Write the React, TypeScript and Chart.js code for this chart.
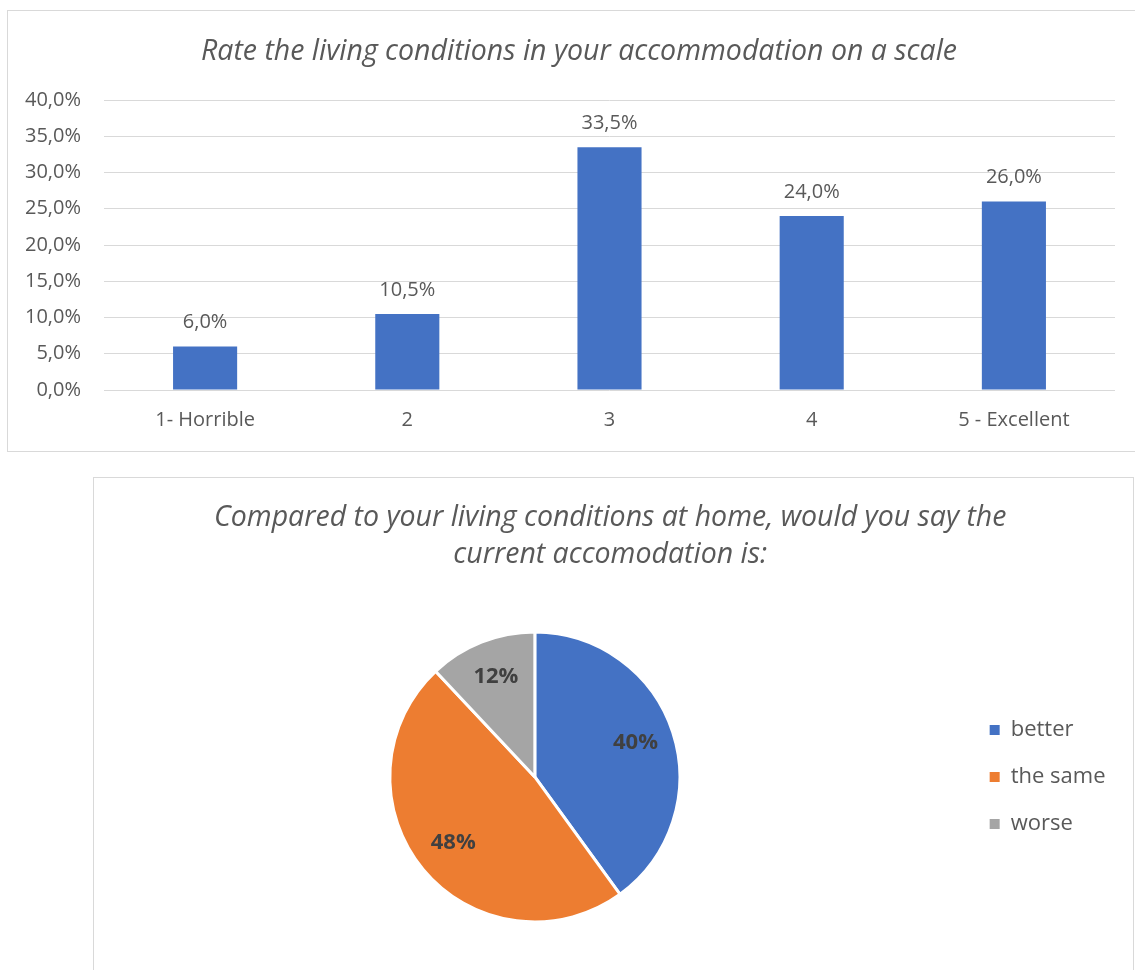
import React, { useEffect, useRef } from "react";
import { Chart, registerables } from "chart.js";

Chart.register(...registerables);

const FONT = "'Open Sans', 'Noto Sans', sans-serif";
const TEXT = "#595959";

const barTitle = "Rate the living conditions in your accommodation on a scale";
const barCategories = ["1- Horrible", "2", "3", "4", "5 - Excellent"];
const barValues = [6.0, 10.5, 33.5, 24.0, 26.0];
const yMax = 40;
const yStep = 5;

const pieTitle = [
  "Compared to your living conditions at home, would you say the",
  "current accomodation is:",
];
const pieLabels = ["better", "the same", "worse"];
const pieValues = [40, 48, 12];
const pieColors = ["#4472C4", "#ED7D31", "#A5A5A5"];

const fmtPct = (v: number) => v.toFixed(1).replace(".", ",") + "%";

const barLabelPlugin = {
  id: "barLabels",
  afterDatasetsDraw(chart: any) {
    const ctx = chart.ctx;
    const meta = chart.getDatasetMeta(0);
    ctx.save();
    ctx.font = `20px ${FONT}`;
    ctx.fillStyle = TEXT;
    ctx.textAlign = "center";
    ctx.textBaseline = "middle";
    meta.data.forEach((el: any, i: number) => {
      ctx.fillText(fmtPct(barValues[i]), el.x, el.y - 24);
    });
    ctx.restore();
  },
};

// Title in the reference sits slightly right of the canvas centre.
const titleShiftPlugin = {
  id: "titleShift",
  afterLayout(chart: any) {
    const t = chart.titleBlock;
    if (t) {
      t.left += 17.5;
      t.right += 17.5;
    }
  },
};

const pieLabelPlugin = {
  id: "pieLabels",
  afterDatasetsDraw(chart: any) {
    const ctx = chart.ctx;
    const meta = chart.getDatasetMeta(0);
    ctx.save();
    ctx.font = `bold 22px ${FONT}`;
    ctx.fillStyle = "#404040";
    ctx.textAlign = "center";
    ctx.textBaseline = "middle";
    meta.data.forEach((arc: any, i: number) => {
      const p = arc.getProps(["x", "y", "startAngle", "endAngle", "outerRadius"], true);
      const mid = (p.startAngle + p.endAngle) / 2;
      const r = p.outerRadius * 0.73;
      ctx.fillText(pieValues[i] + "%", p.x + Math.cos(mid) * r, p.y + Math.sin(mid) * r - 2);
    });
    ctx.restore();
  },
};

function BarChart() {
  const ref = useRef<HTMLCanvasElement>(null);
  useEffect(() => {
    if (!ref.current) return;
    const chart = new Chart(ref.current, {
      type: "bar",
      data: {
        labels: barCategories,
        datasets: [
          {
            data: barValues,
            backgroundColor: "#4472C4",
            barPercentage: 0.317,
            categoryPercentage: 1,
          },
        ],
      },
      options: {
        responsive: false,
        animation: false,
        layout: { padding: { left: 0, right: 20, top: 0, bottom: 0 } },
        plugins: {
          legend: { display: false },
          tooltip: { enabled: false },
          title: {
            display: true,
            text: barTitle,
            color: TEXT,
            font: { family: FONT, size: 28.5, style: "italic", weight: "normal", lineHeight: 1.2 },
            padding: { top: 24, bottom: 30.8 },
          },
        },
        scales: {
          x: {
            grid: { display: false, drawTicks: false },
            border: { display: false },
            ticks: { color: TEXT, font: { family: FONT, size: 20 }, padding: 18 },
            afterFit: (s: any) => {
              s.height = 61;
            },
          },
          y: {
            min: 0,
            max: yMax,
            ticks: {
              stepSize: yStep,
              color: TEXT,
              font: { family: FONT, size: 20 },
              padding: 23,
              callback: (v: any) => fmtPct(Number(v)),
            },
            grid: { color: "#d9d9d9", drawTicks: false, lineWidth: 1 },
            border: { display: false },
            afterFit: (s: any) => {
              s.width = 96;
            },
          },
        },
      } as any,
      plugins: [barLabelPlugin, titleShiftPlugin],
    });
    return () => chart.destroy();
  }, []);
  return <canvas ref={ref} width={1127} height={440} style={{ display: "block" }} />;
}

function PieChart() {
  const ref = useRef<HTMLCanvasElement>(null);
  useEffect(() => {
    if (!ref.current) return;
    const chart = new Chart(ref.current, {
      type: "pie",
      data: {
        labels: pieLabels,
        datasets: [
          {
            data: pieValues,
            backgroundColor: pieColors,
            borderColor: "#ffffff",
            borderWidth: 3,
            radius: 145,
          },
        ],
      },
      options: {
        responsive: false,
        animation: false,
        layout: { padding: { left: 11, right: 17.5, top: 0, bottom: 48 } },
        plugins: {
          tooltip: { enabled: false },
          title: {
            display: true,
            text: pieTitle,
            color: TEXT,
            font: { family: FONT, size: 28.5, style: "italic", weight: "normal", lineHeight: 1.298 },
            padding: { top: 21.5, bottom: 58.5 },
          },
          legend: {
            position: "right",
            fullSize: false,
            labels: {
              boxWidth: 10,
              boxHeight: 10,
              padding: 25,
              color: TEXT,
              font: { family: FONT, size: 22 },
              generateLabels: (c: any) => {
                const items = (Chart as any).overrides.pie.plugins.legend.labels.generateLabels(c);
                return items.map((it: any) => ({ ...it, lineWidth: 0, strokeStyle: it.fillStyle }));
              },
            },
          },
        },
      } as any,
      plugins: [pieLabelPlugin],
    });
    return () => chart.destroy();
  }, []);
  return <canvas ref={ref} width={1039} height={492} style={{ display: "block" }} />;
}

export default function App() {
  return (
    <div
      style={{
        position: "absolute",
        left: 0,
        top: 0,
        width: 1135,
        height: 970,
        overflow: "hidden",
        background: "#ffffff",
      }}
    >
      <div
        style={{
          position: "absolute",
          left: 7,
          top: 10,
          width: 1140,
          height: 440,
          border: "1px solid #d9d9d9",
          overflow: "hidden",
        }}
      >
        <BarChart />
      </div>
      <div
        style={{
          position: "absolute",
          left: 93,
          top: 477,
          width: 1039,
          height: 520,
          border: "1px solid #d9d9d9",
          overflow: "hidden",
        }}
      >
        <PieChart />
      </div>
    </div>
  );
}
